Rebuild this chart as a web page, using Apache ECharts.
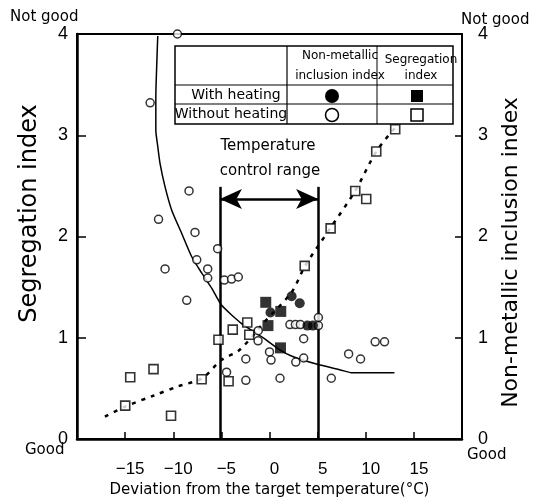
<!DOCTYPE html>
<html><head><meta charset="utf-8">
<script src="https://cdn.jsdelivr.net/npm/echarts@6/dist/echarts.min.js"></script>
<style>html,body{margin:0;padding:0;background:#fff}#c{width:540px;height:498px}</style>
</head><body><div id="c"></div>
<script>
// ---- data (x: deviation °C, y: index) ----
const inclusionWithoutHeating = [
  [-9.57,4.0],[-12.40,3.32],[-8.36,2.45],[-11.53,2.17],[-7.74,2.04],[-5.39,1.88],[-7.56,1.77],
  [-10.85,1.68],[-6.42,1.68],[-6.42,1.59],[-4.69,1.57],[-3.94,1.58],[-3.24,1.60],[-8.60,1.37],
  [-4.46,0.66],[-2.46,0.79],[-2.46,0.58],[-1.17,1.07],[-1.19,0.97],[0.0,0.86],[0.16,0.78],
  [1.09,0.60],[2.12,1.13],[2.69,1.13],[3.21,1.13],[5.08,1.20],[5.08,1.12],[3.55,0.99],
  [2.73,0.76],[3.55,0.80],[6.42,0.60],[8.22,0.84],[9.46,0.79],[10.98,0.96],[11.95,0.96]
];
const inclusionWithHeating = [[0.10,1.25],[2.30,1.41],[3.14,1.34],[3.94,1.12],[4.51,1.12]];
const segregationWithHeating = [[-0.39,1.35],[-0.16,1.12],[1.17,1.26],[1.14,0.90]];
const segregationWithoutHeating = [
  [-14.47,0.61],[-12.05,0.69],[-14.99,0.33],[-10.23,0.23],[-7.05,0.59],[-5.30,0.98],[-4.25,0.57],
  [-3.82,1.08],[-2.31,1.15],[-2.10,1.03],[3.66,1.71],[6.35,2.08],[8.91,2.45],[10.05,2.37],
  [11.09,2.84],[13.06,3.06]
];
const inclusionTrend = [
  [-11.61,3.98],[-11.71,3.71],[-11.81,3.38],[-11.81,3.05],[-11.61,2.89],[-11.37,2.72],[-10.85,2.49],
  [-10.16,2.26],[-9.12,2.03],[-8.08,1.80],[-7.05,1.64],[-6.01,1.49],[-4.97,1.32],[-2.90,1.14],
  [-0.83,1.01],[1.07,0.88],[2.28,0.82],[4.87,0.74],[7.46,0.68],[8.50,0.655],[12.98,0.655]
];
const segregationTrend = [
  [-17.1,0.22],[-15,0.32],[-12,0.43],[-9.5,0.52],[-7,0.60],[-5,0.78],[-3.1,0.88],[-0.4,1.17],
  [2.3,1.45],[3.7,1.71],[6.3,2.08],[8.9,2.45],[11.1,2.84],[13.1,3.08]
];
const controlRange = [-5.15, 5.05];
const rangeLineTop = 2.49;
const arrowLevel = 2.37;
const xRange = [-20, 20];
const yRange = [0, 4];

const NAMEFONT = '"DejaVu Sans", sans-serif';
const NUMFONT = '"Liberation Sans", Arial, sans-serif';
const chart = echarts.init(document.getElementById('c'), null, {renderer: 'canvas'});

const minus = v => v < 0 ? '\u2212' + Math.abs(v) : String(v);

const option = {
  backgroundColor: '#fff',
  animation: false,
  grid: {left: 77, right: 78, top: 34, bottom: 59, show: true, borderColor: '#000', borderWidth: 2,
    backgroundColor: 'transparent', containLabel: false, outerBoundsMode: 'none'},
  xAxis: {
    type: 'value', min: xRange[0], max: xRange[1], interval: 5,
    axisLine: {show: true, onZero: false, lineStyle: {color: '#000', width: 2.5}},
    axisTick: {show: true, inside: true, length: 7, lineStyle: {color: '#000', width: 1.5}},
    splitLine: {show: false},
    axisLabel: {color: '#000', fontFamily: NUMFONT, fontSize: 17, margin: 22, showMinLabel: false, showMaxLabel: false,
      padding: [0, 0, 0, 10],
      formatter: v => (v <= xRange[0] || v >= xRange[1]) ? '' : minus(v)},
    name: 'Deviation from the target temperature(°C)', nameLocation: 'middle', nameGap: 44,
    nameTextStyle: {color: '#000', fontFamily: NAMEFONT, fontSize: 15}
  },
  yAxis: [{
    type: 'value', min: yRange[0], max: yRange[1], interval: 1, position: 'left',
    axisLine: {show: true, onZero: false, lineStyle: {color: '#000', width: 2.5}},
    axisTick: {show: true, inside: true, length: 9, lineStyle: {color: '#000', width: 1.5}},
    splitLine: {show: false},
    axisLabel: {color: '#000', fontFamily: NUMFONT, fontSize: 18, margin: 9},
    name: 'Segregation index', nameLocation: 'middle', nameGap: 35, nameRotate: 90,
    nameTextStyle: {color: '#000', fontFamily: NAMEFONT, fontSize: 24, padding: [0, 0, 0, 46]}
  }, {
    type: 'value', min: yRange[0], max: yRange[1], interval: 1, position: 'right',
    axisLine: {show: true, onZero: false, lineStyle: {color: '#000', width: 2}},
    axisTick: {show: true, inside: true, length: 7, lineStyle: {color: '#000', width: 1.5}},
    splitLine: {show: false},
    axisLabel: {color: '#000', fontFamily: NUMFONT, fontSize: 18, margin: 16},
    name: 'Non-metallic inclusion index', nameLocation: 'middle', nameGap: 38, nameRotate: 90,
    nameTextStyle: {color: '#000', fontFamily: NAMEFONT, fontSize: 22, padding: [0, 32, 0, 0]}
  }],
  series: [
    {type: 'line', data: inclusionTrend, yAxisIndex: 1, symbol: 'none', smooth: 0.2, clip: false,
      lineStyle: {color: '#000', width: 1.5}, z: 2},
    {type: 'line', data: segregationTrend, yAxisIndex: 0, symbol: 'none', smooth: 0.3, clip: false,
      lineStyle: {color: '#000', width: 2.5, type: [4, 6]}, z: 2},
    {type: 'line', data: [], yAxisIndex: 0, symbol: 'none', z: 3,
      markLine: {silent: true, animation: false, label: {show: false}, symbol: ['none', 'none'],
        lineStyle: {color: '#000', width: 2.5, type: 'solid'},
        data: [
          [{coord: [controlRange[0], 0], symbol: 'none'}, {coord: [controlRange[0], rangeLineTop], symbol: 'none'}],
          [{coord: [controlRange[1], 0], symbol: 'none'}, {coord: [controlRange[1], rangeLineTop], symbol: 'none'}],
          [{coord: [controlRange[0], arrowLevel], symbol: 'arrow', symbolSize: [15, 22]},
           {coord: [controlRange[1], arrowLevel], symbol: 'arrow', symbolSize: [15, 22]}]
        ]}},
    {type: 'scatter', data: inclusionWithoutHeating, yAxisIndex: 1, symbol: 'circle', symbolSize: 8, clip: false,
      itemStyle: {color: '#fff', borderColor: '#000', borderWidth: 1.5}, z: 5},
    {type: 'scatter', data: segregationWithoutHeating, yAxisIndex: 0, symbol: 'rect', symbolSize: 9, clip: false,
      itemStyle: {color: '#fff', borderColor: '#000', borderWidth: 1.6}, z: 5},
    {type: 'scatter', data: inclusionWithHeating, yAxisIndex: 1, symbol: 'circle', symbolSize: 10, clip: false,
      itemStyle: {color: '#000'}, z: 6},
    {type: 'scatter', data: segregationWithHeating, yAxisIndex: 0, symbol: 'rect', symbolSize: 11, clip: false,
      itemStyle: {color: '#000'}, z: 6}
  ],
  graphic: [
    {type: 'text', left: 10, top: 10, style: {text: 'Not good', fontFamily: NAMEFONT, fontSize: 15, fill: '#000'}},
    {type: 'text', left: 461, top: 13, style: {text: 'Not good', fontFamily: NAMEFONT, fontSize: 15, fill: '#000'}},
    {type: 'text', left: 25, top: 443, style: {text: 'Good', fontFamily: NAMEFONT, fontSize: 15, fill: '#000'}},
    {type: 'text', left: 467, top: 448, style: {text: 'Good', fontFamily: NAMEFONT, fontSize: 15, fill: '#000'}},
    {type: 'text', x: 268, y: 146, style: {text: 'Temperature', fontFamily: NAMEFONT, fontSize: 15, fill: '#000', align: 'center', verticalAlign: 'middle'}},
    {type: 'text', x: 270, y: 171, style: {text: 'control range', fontFamily: NAMEFONT, fontSize: 15, fill: '#000', align: 'center', verticalAlign: 'middle'}},
    {type: 'group', z: 10, children: [
      {type: 'rect', shape: {x: 175, y: 46, width: 278, height: 78}, style: {fill: '#fff', stroke: '#000', lineWidth: 1.5}},
      {type: 'line', shape: {x1: 175, y1: 85, x2: 453, y2: 85}, style: {stroke: '#000', lineWidth: 1.2}},
      {type: 'line', shape: {x1: 175, y1: 104, x2: 453, y2: 104}, style: {stroke: '#000', lineWidth: 1.2}},
      {type: 'line', shape: {x1: 287, y1: 46, x2: 287, y2: 124}, style: {stroke: '#000', lineWidth: 1.2}},
      {type: 'line', shape: {x1: 377, y1: 46, x2: 377, y2: 124}, style: {stroke: '#000', lineWidth: 1}},
      {type: 'text', x: 340, y: 56, style: {text: 'Non-metallic', fontFamily: NAMEFONT, fontSize: 12, fill: '#000', align: 'center', verticalAlign: 'middle'}},
      {type: 'text', x: 340, y: 76, style: {text: 'inclusion index', fontFamily: NAMEFONT, fontSize: 12, fill: '#000', align: 'center', verticalAlign: 'middle'}},
      {type: 'text', x: 421, y: 60, style: {text: 'Segregation', fontFamily: NAMEFONT, fontSize: 12, fill: '#000', align: 'center', verticalAlign: 'middle'}},
      {type: 'text', x: 421, y: 76, style: {text: 'index', fontFamily: NAMEFONT, fontSize: 12, fill: '#000', align: 'center', verticalAlign: 'middle'}},
      {type: 'text', x: 236, y: 95, style: {text: 'With heating', fontFamily: NAMEFONT, fontSize: 14, fill: '#000', align: 'center', verticalAlign: 'middle'}},
      {type: 'text', x: 231, y: 114, style: {text: 'Without heating', fontFamily: NAMEFONT, fontSize: 14, fill: '#000', align: 'center', verticalAlign: 'middle'}},
      {type: 'circle', shape: {cx: 332, cy: 96, r: 7}, style: {fill: '#000'}},
      {type: 'circle', shape: {cx: 332, cy: 115, r: 6.5}, style: {fill: '#fff', stroke: '#000', lineWidth: 1.5}},
      {type: 'rect', shape: {x: 411, y: 90, width: 12, height: 12}, style: {fill: '#000'}},
      {type: 'rect', shape: {x: 411, y: 109, width: 12, height: 12}, style: {fill: '#fff', stroke: '#000', lineWidth: 1.5}}
    ]}
  ]
};
chart.setOption(option);
</script></body></html>
